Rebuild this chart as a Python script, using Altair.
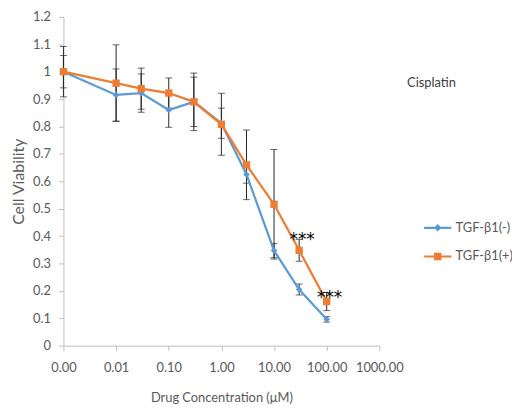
import altair as alt
import pandas as pd

# ---- data ----
conc = [0.001, 0.01, 0.03, 0.1, 0.3, 1, 3, 10, 30, 100]
series_names = ["TGF-β1(-)", "TGF-β1(+)"]
neg_vals = [1.0, 0.915, 0.922, 0.86, 0.89, 0.812, 0.625, 0.347, 0.205, 0.096]
neg_err = [0.059, 0.095, 0.07, 0.063, 0.09, 0.055, 0.032, 0.026, 0.02, 0.01]
pos_vals = [1.0, 0.958, 0.938, 0.922, 0.89, 0.808, 0.66, 0.516, 0.348, 0.161]
pos_err = [0.092, 0.14, 0.075, 0.055, 0.105, 0.113, 0.127, 0.2, 0.04, 0.033]

star_x = [30, 100]
star_y = [0.40, 0.19]
star_labels = ["***", "***"]

x_ticks = [0.001, 0.01, 0.1, 1, 10, 100, 1000]
y_ticks = [0, 0.1, 0.2, 0.3, 0.4, 0.5, 0.6, 0.7, 0.8, 0.9, 1.0, 1.1, 1.2]
colors = ["#5B9BD5", "#ED7D31"]

rows = []
for name, vals, errs in [(series_names[0], neg_vals, neg_err), (series_names[1], pos_vals, pos_err)]:
    for c, v, e in zip(conc, vals, errs):
        rows.append({"conc": c, "viability": v, "lo": v - e, "hi": v + e, "series": name})
df = pd.DataFrame(rows)

FONT = "Lato"
GREY = "#595959"

x_scale = alt.Scale(type="log", domain=[0.001, 1000])
y_scale = alt.Scale(domain=[0, 1.2])
color_scale = alt.Scale(domain=series_names, range=colors)

x_axis = alt.Axis(values=x_ticks, labelExpr="format(datum.value, '.2f')",
                  title="Drug Concentration (μM)", labelPadding=11, titlePadding=17,
                  labelFlush=False, labelOverlap=False)
y_axis = alt.Axis(values=y_ticks, format=".1~f", title="Cell Viability",
                  labelPadding=8, titlePadding=6, titleFontSize=16)

X = alt.X("conc:Q", scale=x_scale, axis=x_axis)
Y = alt.Y("viability:Q", scale=y_scale, axis=y_axis)

base = alt.Chart(df)

err_rule = base.mark_rule(color="#262626", strokeWidth=1).encode(
    x=X, y=alt.Y("lo:Q", scale=y_scale, axis=y_axis), y2="hi:Q")
cap_lo = base.mark_tick(orient="horizontal", size=7, thickness=1, color="#262626").encode(
    x=X, y=alt.Y("lo:Q", scale=y_scale, axis=y_axis))
cap_hi = base.mark_tick(orient="horizontal", size=7, thickness=1, color="#262626").encode(
    x=X, y=alt.Y("hi:Q", scale=y_scale, axis=y_axis))

lines = base.mark_line(strokeWidth=2.25).encode(
    x=X, y=Y, color=alt.Color("series:N", scale=color_scale, legend=None))

points = base.mark_point(filled=True, opacity=1).encode(
    x=X, y=Y,
    color=alt.Color("series:N", scale=color_scale, legend=None),
    shape=alt.Shape("series:N", scale=alt.Scale(domain=series_names, range=["diamond", "square"]), legend=None),
    size=alt.Size("series:N", scale=alt.Scale(domain=series_names, range=[45, 55]), legend=None),
)

# legend symbols: filled bar (line) + marker, drawn in symbol units
legend_paths = [
    "M-2.75,-0.22H2.75V0.22H-2.75ZM0,-0.75L0.75,0L0,0.75L-0.75,0Z",
    "M-2.75,-0.22H2.75V0.22H-2.75ZM-0.75,-0.75H0.75V0.75H-0.75Z",
]
legend_y = [206.5, 235.5]


def legend_layer(i):
    leg = alt.Legend(orient="none", legendX=371.5, legendY=legend_y[i], title=None,
                     labelFont=FONT, labelFontSize=13, labelColor=GREY,
                     symbolSize=100, labelOffset=11.5, symbolStrokeWidth=0,
                     symbolOpacity=1)
    return base.transform_filter("false").mark_point(
        filled=True, opacity=1, size=100, strokeWidth=0, color=colors[i]
    ).encode(
        x=X, y=Y,
        shape=alt.Shape("series:N",
                        scale=alt.Scale(domain=[series_names[i]], range=[legend_paths[i]]),
                        legend=leg),
    )


stars = alt.Chart(pd.DataFrame({"x": star_x, "y": star_y, "t": star_labels})).mark_text(
    fontSize=17, color="#000000", font="DejaVu Sans", baseline="middle", dy=4, dx=3
).encode(x=alt.X("x:Q", scale=x_scale, axis=x_axis), y=alt.Y("y:Q", scale=y_scale, axis=y_axis), text="t:N")

note = alt.Chart(pd.DataFrame({"t": ["Cisplatin"]})).mark_text(
    align="left", baseline="middle", font=FONT, fontSize=13, color="#404040"
).encode(x=alt.value(347), y=alt.value(67), text="t:N")

chart = alt.layer(err_rule, cap_lo, cap_hi, lines, points, legend_layer(0), legend_layer(1), stars, note).resolve_scale(
    shape="independent"
).resolve_legend(shape="independent").properties(
    width=319, height=332,
    autosize=alt.AutoSizeParams(type="none"),
    padding={"left": 56, "top": 7, "right": 134, "bottom": 62},
).configure_view(stroke=None).configure_axis(
    grid=False, domainColor="#BFBFBF", tickColor="#BFBFBF", tickSize=5,
    labelFont=FONT, labelFontSize=13, labelColor=GREY,
    titleFont=FONT, titleFontSize=13, titleFontWeight="normal", titleColor=GREY,
)

chart.save("out.html", embed_options={"renderer": "svg", "actions": False})
